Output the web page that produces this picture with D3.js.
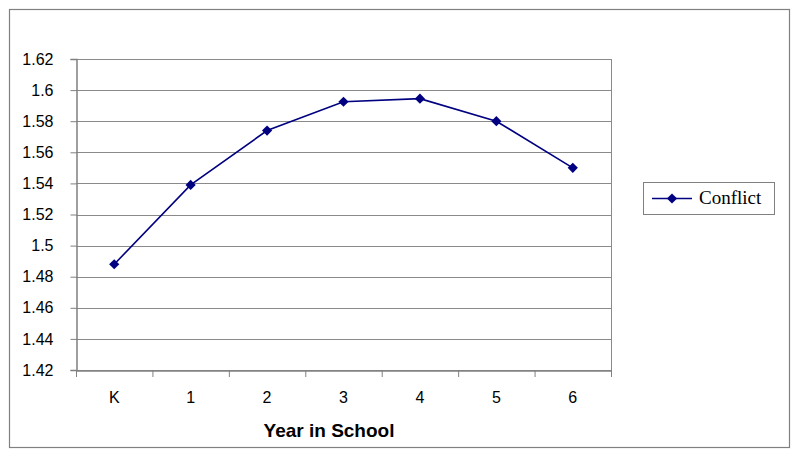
<!DOCTYPE html>
<html><head><meta charset="utf-8">
<script src="https://cdn.jsdelivr.net/npm/d3@7"></script>
<style>body{margin:0;background:#fff}svg{display:block}</style>
</head><body>
<script>
const categories = ["K","1","2","3","4","5","6"];
const conflict = [1.488, 1.539, 1.574, 1.5925, 1.5945, 1.580, 1.550];
const yTicks = [1.42,1.44,1.46,1.48,1.5,1.52,1.54,1.56,1.58,1.6,1.62];
const seriesName = "Conflict";
const xTitle = "Year in School";

const W=800,H=458;
const svg=d3.select("body").append("svg").attr("width",W).attr("height",H);
svg.append("rect").attr("x",9.5).attr("y",9.5).attr("width",780).attr("height",438)
  .attr("fill","#fff").attr("stroke","#808080").attr("stroke-width",1.2);

const L=76,R=611,T=59,B=370;
const x=d3.scaleBand().domain(categories).range([L,R]);
const y=d3.scaleLinear().domain([1.42,1.62]).range([B,T]);
const sans="Arial, 'Liberation Sans', sans-serif";

svg.append("g").selectAll("line").data(yTicks).join("line")
  .attr("x1",L).attr("x2",R).attr("y1",d=>Math.round(y(d))+0.5).attr("y2",d=>Math.round(y(d))+0.5)
  .attr("stroke","#8a8a8a").attr("stroke-width",1);
svg.append("line").attr("x1",R+0.5).attr("x2",R+0.5).attr("y1",T).attr("y2",B).attr("stroke","#8a8a8a");

const yAxis=d3.axisLeft(y).tickValues(yTicks).tickSize(6).tickPadding(17).tickFormat(d=>String(+d.toFixed(2)));
const gy=svg.append("g").attr("transform",`translate(${L+0.5},0)`).call(yAxis);
gy.attr("font-size",null).attr("font-family",null);
gy.selectAll("text").style("font-family",sans).style("font-size","16px").attr("fill","#000");
gy.select(".domain").attr("stroke","#808080").attr("stroke-width",1.5);
gy.selectAll(".tick line").attr("stroke","#808080");

const gx=svg.append("g").attr("transform",`translate(0,${B+0.5})`).call(d3.axisBottom(x).tickSize(0).tickPadding(21));
gx.attr("font-size",null).attr("font-family",null);
gx.select(".domain").attr("stroke","#808080").attr("stroke-width",1.5);
gx.selectAll("text").style("font-family",sans).style("font-size","16px").attr("fill","#000");
const bounds=categories.map(c=>x(c)).concat([R]);
svg.append("g").selectAll("line").data(bounds).join("line")
  .attr("x1",d=>d+0.5).attr("x2",d=>d+0.5).attr("y1",B).attr("y2",B+7).attr("stroke","#808080");

svg.append("text").attr("x",329).attr("y",437).attr("text-anchor","middle")
  .style("font-family",sans).attr("font-weight","bold").style("font-size","19px").text(xTitle);

const cx=c=>x(c)+x.bandwidth()/2;
svg.append("path").datum(conflict).attr("fill","none").attr("stroke","#000080").attr("stroke-width",1.6)
  .attr("d",d3.line().x((d,i)=>cx(categories[i])).y(d=>y(d)));
svg.append("g").selectAll("path").data(conflict).join("path")
  .attr("d",d3.symbol().type(d3.symbolSquare).size(52))
  .attr("transform",(d,i)=>`translate(${cx(categories[i])},${y(d)}) rotate(45)`)
  .attr("fill","#000080");

const lg=svg.append("g");
lg.append("rect").attr("x",643.5).attr("y",182.5).attr("width",131).attr("height",32).attr("fill","#fff").attr("stroke","#808080");
lg.append("line").attr("x1",652).attr("x2",692).attr("y1",198.5).attr("y2",198.5).attr("stroke","#000080").attr("stroke-width",1.6);
lg.append("path").attr("d",d3.symbol().type(d3.symbolSquare).size(52)).attr("transform","translate(672,198.5) rotate(45)").attr("fill","#000080");
lg.append("text").attr("x",699).attr("y",204).style("font-family","'Liberation Serif','Times New Roman',serif").style("font-size","19px").text(seriesName);
</script>
</body></html>
